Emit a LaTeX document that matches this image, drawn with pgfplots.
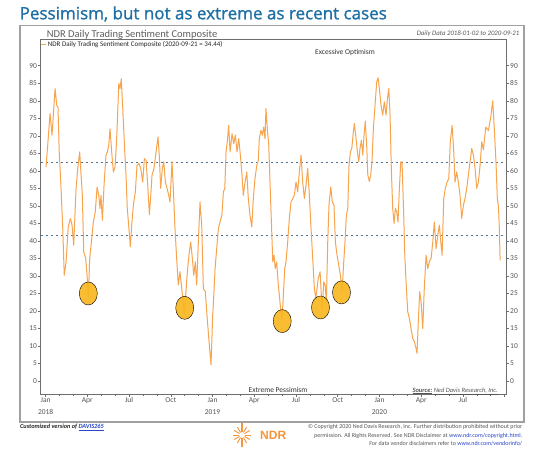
\documentclass[border=0pt]{standalone}
\usepackage{fontspec}
\setmainfont{Carlito}
\newfontfamily\titlefont[FakeBold=1.2]{Open Sans}
\newfontfamily\logofont{Liberation Sans}
\usepackage{pgfplots}
\pgfplotsset{compat=1.18}
\usepackage{pgfplotstable}
\definecolor{titleblue}{RGB}{31,112,164}
\definecolor{lineorange}{RGB}{247,164,78}
\definecolor{gold}{RGB}{249,182,30}
\definecolor{dashblue}{RGB}{80,115,145}
\definecolor{txtgray}{RGB}{85,85,85}
\definecolor{subgray}{RGB}{95,95,95}
\definecolor{framegray}{RGB}{110,110,110}
\definecolor{boxgray}{RGB}{160,160,160}
\definecolor{linkblue}{RGB}{40,70,200}
\definecolor{ndrorange}{RGB}{245,150,60}

\pgfplotstableread{
m v
0.03 61.1
0.15 67.3
0.32 76.4
0.46 70.2
0.68 83.5
0.80 78.7
0.89 78.2
0.98 65.4
1.11 55.0
1.23 43.6
1.34 30.2
1.47 34.0
1.63 44.0
1.78 46.4
1.90 44.5
2.02 38.8
2.19 55.0
2.31 60.7
2.45 65.4
2.52 60.7
2.64 53.0
2.74 36.9
2.88 35.0
2.98 30.2
3.07 23.6
3.17 35.0
3.29 39.7
3.43 45.4
3.57 48.3
3.70 55.4
3.82 53.0
3.91 49.3
3.98 53.0
4.08 45.9
4.20 55.9
4.34 64.5
4.44 65.4
4.54 67.3
4.63 72.0
4.75 65.4
4.87 59.7
4.99 61.1
5.11 69.2
5.26 84.9
5.35 83.5
5.44 86.3
5.59 74.0
5.69 65.4
5.78 58.8
5.87 49.3
5.97 44.5
6.09 38.3
6.19 44.5
6.31 50.2
6.45 54.0
6.57 61.6
6.71 62.1
6.84 60.7
6.98 56.8
7.10 63.5
7.22 63.0
7.34 56.0
7.46 47.5
7.56 53.0
7.65 58.8
7.79 60.7
7.94 65.4
8.08 69.7
8.17 64.5
8.27 55.0
8.39 60.7
8.49 62.6
8.61 56.8
8.73 55.0
8.85 53.0
8.94 51.1
9.09 62.6
9.18 55.0
9.30 43.6
9.42 35.0
9.54 27.4
9.66 31.2
9.76 27.4
9.86 23.6
9.97 19.3
10.07 24.5
10.19 31.2
10.33 36.9
10.43 39.7
10.55 35.0
10.65 30.2
10.76 34.0
10.86 27.4
10.98 39.7
11.10 51.1
11.22 44.5
11.34 26.4
11.48 25.5
11.60 18.8
11.73 12.2
11.89 4.6
12.01 18.8
12.08 23.6
12.18 32.1
12.30 37.8
12.42 43.6
12.54 45.4
12.67 47.3
12.78 54.0
12.88 55.0
12.97 65.4
13.06 68.3
13.16 73.0
13.26 65.4
13.40 70.6
13.52 67.8
13.64 70.2
13.76 65.4
13.88 69.2
14.00 64.5
14.12 58.8
14.21 53.0
14.34 56.8
14.46 59.7
14.57 52.1
14.69 47.3
14.82 44.0
14.93 52.1
15.05 57.8
15.18 61.6
15.29 63.0
15.36 69.2
15.48 71.6
15.58 70.2
15.68 72.5
15.77 69.2
15.84 77.8
15.94 72.0
16.04 67.3
16.13 56.8
16.23 45.4
16.33 34.0
16.42 35.9
16.51 32.1
16.61 34.0
16.71 28.3
16.80 24.5
16.90 20.3
16.99 17.4
17.09 24.5
17.19 32.1
17.28 34.0
17.40 39.7
17.52 46.4
17.64 51.1
17.76 52.1
17.88 53.0
18.00 56.8
18.12 54.0
18.24 59.7
18.36 64.5
18.48 56.8
18.60 52.1
18.72 55.9
18.84 60.7
18.96 53.0
19.08 43.6
19.20 35.0
19.32 26.4
19.42 23.6
19.51 26.4
19.60 29.3
19.73 31.2
19.82 24.5
19.89 20.3
19.99 28.3
20.09 27.4
20.18 22.6
20.28 39.7
20.37 50.2
20.50 55.4
20.61 51.1
20.73 50.2
20.83 39.7
20.95 35.9
21.07 33.1
21.19 30.2
21.31 25.5
21.43 34.0
21.52 39.7
21.62 47.3
21.72 49.3
21.81 61.6
21.91 65.4
22.01 66.4
22.10 70.2
22.19 73.5
22.29 70.2
22.41 65.4
22.51 62.6
22.60 66.4
22.70 68.7
22.80 64.5
22.89 70.2
22.98 74.2
23.08 67.3
23.16 58.8
23.27 57.0
23.37 58.8
23.46 62.6
23.56 72.0
23.68 78.7
23.80 85.4
23.90 86.6
23.99 83.5
24.11 78.7
24.23 75.9
24.35 79.7
24.47 75.9
24.57 80.6
24.67 83.5
24.76 75.9
24.85 60.7
24.95 49.3
25.05 45.0
25.14 49.3
25.24 48.3
25.33 45.4
25.43 55.0
25.53 62.6
25.62 62.6
25.72 50.2
25.82 35.9
25.91 28.3
26.03 19.8
26.15 17.9
26.27 15.0
26.39 12.2
26.51 11.2
26.63 9.3
26.70 7.9
26.79 16.9
26.89 25.5
26.99 22.6
27.11 15.0
27.22 26.4
27.35 35.9
27.47 32.1
27.58 34.0
27.71 35.0
27.83 39.7
27.94 45.4
28.07 37.8
28.19 41.6
28.30 44.5
28.43 38.8
28.50 35.9
28.62 52.1
28.73 55.0
28.86 56.8
28.98 57.8
29.09 68.3
29.22 73.0
29.34 65.4
29.43 56.8
29.55 59.7
29.67 56.8
29.79 53.0
29.91 46.4
30.03 50.2
30.15 52.1
30.27 55.0
30.39 58.8
30.51 62.6
30.63 66.4
30.75 64.5
30.87 60.7
30.99 55.0
31.11 56.8
31.23 61.6
31.35 68.3
31.47 66.0
31.64 72.5
31.83 71.5
32.00 75.4
32.14 80.0
32.26 71.5
32.38 62.0
32.47 52.0
32.55 50.0
32.62 43.0
32.67 34.44
}\sentiment

\pgfplotstableread{
m v
3.07 25.0
10.00 20.9
17.01 17.1
19.76 21.0
21.27 25.3
}\lows

\begin{document}
\begin{tikzpicture}[x=1pt,y=1pt]
\useasboundingbox (0,0) rectangle (560,456);
\fill[white] (0,0) rectangle (560,456);
% title
\node[anchor=base west, inner sep=0, text=titleblue, font=\titlefont\fontsize{17}{19}\selectfont] at (19.5,436.7) {Pessimism, but not as extreme as recent cases};
% outer box
\draw[boxgray, line width=1.3pt] (20,430.5) rectangle (524,34);
% subtitle
\node[anchor=base west, inner sep=0, text=subgray, font=\fontsize{10.5}{12}\selectfont] at (46.7,418.7) {NDR Daily Trading Sentiment Composite};
\node[anchor=base east, inner sep=0, text=txtgray, font=\itshape\fontsize{6.8}{8}\selectfont] at (519.5,420) {Daily Data 2018-01-02 to 2020-09-21};

\begin{axis}[
  at={(40.6pt,62pt)}, anchor=south west,
  scale only axis, width=465.9pt, height=354.5pt,
  xmin=-0.36, xmax=33.13, ymin=-3.7, ymax=97.5,
  axis line style={framegray, line width=0.8pt},
  tick align=outside,
  major tick length=2.5pt, minor tick length=2pt,
  tick style={framegray, line width=0.6pt},
  xtick={0,3,...,33},
  xticklabels={{Jan\\2018},Apr,Jul,Oct,{Jan\\2019},Apr,Jul,Oct,{Jan\\2020},Apr,Jul,{}},
  minor xtick={1,2,4,5,7,8,10,11,13,14,16,17,19,20,22,23,25,26,28,29,31,32},
  xticklabel style={align=center, font=\fontsize{7.5}{11.5}\selectfont, text=txtgray, inner sep=1pt},
  xtick pos=left,
  ytick={0,5,...,90},
  ytick pos=left,
  yticklabel style={font=\fontsize{7.5}{8}\selectfont, text=txtgray, inner xsep=1pt},
  /pgf/number format/assume math mode=true,
  legend style={at={(0,1)}, anchor=north west, draw=none, fill=none, inner xsep=0pt, inner ysep=1pt,
    font=\fontsize{7}{8}\selectfont, text=black!85, legend cell align=left,
    nodes={inner xsep=1pt, inner ysep=0.5pt}},
  legend image code/.code={\draw[#1, line width=1pt] (0pt,0pt) -- (5pt,0pt);},
]
\addplot[only marks, mark=*, mark size=9pt, mark options={draw=none, fill=gold, fill opacity=0.9, yscale=1.28}, forget plot] table[x=m, y=v] {\lows};
\addplot[dashblue, line width=1.1pt, dash pattern=on 2.5pt off 2.5pt, forget plot] coordinates {(-0.36,62.5) (33.13,62.5)};
\addplot[dashblue, line width=1.1pt, dash pattern=on 2.5pt off 2.5pt, forget plot] coordinates {(-0.36,41.5) (33.13,41.5)};
\addplot[lineorange, line width=1pt, line join=round] table[x=m, y=v] {\sentiment};
\addlegendentry{NDR Daily Trading Sentiment Composite (2020-09-21 = 34.44)}
\end{axis}

\begin{axis}[
  at={(40.6pt,62pt)}, anchor=south west,
  scale only axis, width=465.9pt, height=354.5pt,
  xmin=-0.36, xmax=33.13, ymin=-3.7, ymax=97.5,
  hide x axis,
  axis y line*=right,
  axis line style={framegray, line width=0.8pt},
  tick align=outside,
  major tick length=2.5pt,
  tick style={framegray, line width=0.6pt},
  ytick={0,5,...,90},
  yticklabel style={font=\fontsize{7.5}{8}\selectfont, text=txtgray, inner xsep=1pt},
  /pgf/number format/assume math mode=true,
]
\addplot[draw=none, forget plot] coordinates {(0,0)};
\end{axis}

% annotations
\node[anchor=center, inner sep=0, text=black!80, font=\fontsize{7.5}{9}\selectfont] at (345,403) {Excessive Optimism};
\node[anchor=base, inner sep=0, text=black!80, font=\fontsize{7.5}{9}\selectfont] at (278,64) {Extreme Pessimism};
\node[anchor=base east, inner sep=0, text=txtgray, font=\itshape\fontsize{6.5}{8}\selectfont] at (498,64) {\underline{\textbf{Source:}}\ \underline{Ned Davis Research, Inc.}};

% footer
\node[anchor=base west, inner sep=0, text=black!85, font=\bfseries\itshape\fontsize{6.3}{8}\selectfont] at (20,27.5) {Customized version of \textcolor{linkblue}{\underline{DAVIS265}}};
% NDR logo
\begin{scope}[ndrorange, line width=0.9pt]
  \foreach \a in {0,30,...,330} {\draw (242,21) -- ++(\a:9);}
  \draw[line width=1.2pt] (242,9) -- (242,33);
  \fill[white] (242,21) circle (3);
\end{scope}
\node[anchor=base west, inner sep=0, text=ndrorange, font=\logofont\bfseries\fontsize{12}{14}\selectfont] at (260,16.5) {NDR};
\node[anchor=base east, inner sep=0, text=txtgray, font=\fontsize{6}{7}\selectfont] at (522.5,27.5) {\textcopyright{} Copyright 2020 Ned Davis Research, Inc. Further distribution prohibited without prior};
\node[anchor=base east, inner sep=0, text=txtgray, font=\fontsize{6}{7}\selectfont] at (522.5,18.8) {permission. All Rights Reserved. See NDR Disclaimer at \textcolor{linkblue}{www.ndr.com/copyright.html}.};
\node[anchor=base east, inner sep=0, text=txtgray, font=\fontsize{6}{7}\selectfont] at (522.5,10.1) {For data vendor disclaimers refer to \textcolor{linkblue}{www.ndr.com/vendorinfo/}};
\end{tikzpicture}
\end{document}
